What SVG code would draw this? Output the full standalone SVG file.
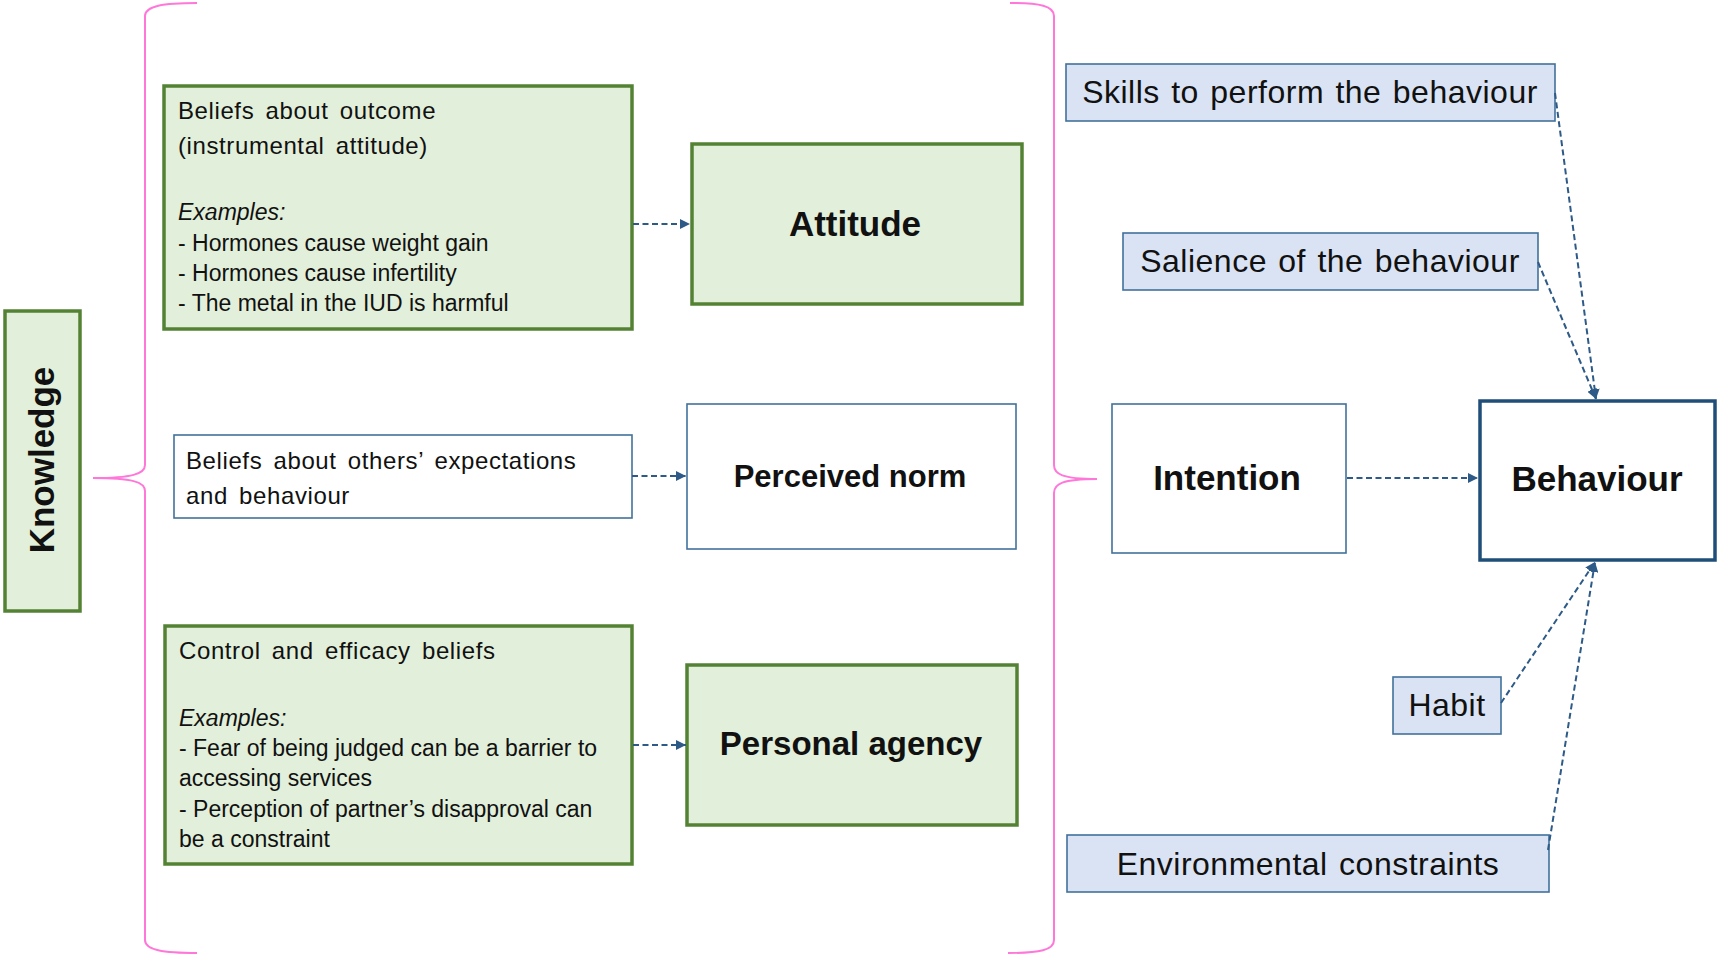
<svg xmlns="http://www.w3.org/2000/svg" width="1717" height="955" viewBox="0 0 1717 955">
<style>
text{font-family:"Liberation Sans",Arial,sans-serif;fill:#111}
.green{fill:#E2EFDA;stroke:#548235;stroke-width:3.5}
.white{fill:#fff;stroke:#41719C;stroke-width:1.6}
.blue{fill:#DAE3F3;stroke:#41719C;stroke-width:1.6}
.beh{fill:#fff;stroke:#1F4E79;stroke-width:3.5}
.hdr{font-size:24px;letter-spacing:0.6px;word-spacing:4px}
.ex{font-size:23px}
.it{font-size:23px;font-style:italic}
.bold{font-weight:bold;text-anchor:middle}
.side{font-size:32px;letter-spacing:0.5px;word-spacing:2px;text-anchor:middle}
.conn{fill:none;stroke:#2E5A88;stroke-width:2;stroke-dasharray:6 3.5;marker-end:url(#ah)}
.brace{fill:none;stroke:#FF77D9;stroke-width:2}
</style>
<defs>
<marker id="ah" markerUnits="userSpaceOnUse" markerWidth="11" markerHeight="10" refX="10" refY="5" orient="auto">
<path d="M0,0 L10,5 L0,10 z" fill="#2E5A88"/>
</marker>
</defs>
<rect width="1717" height="955" fill="#fff"/>

<g id="braces">
<path class="brace" d="M197,3 C163,3 145,6 145,16 L145,465 C145,474 132,478 93,478 C132,478 145,482 145,491 L145,940 C145,950 163,953 197,953"/>
<path class="brace" d="M1010,3 C1040,3 1054,6 1054,16 L1054,465 C1054,474 1062,479 1097,479 C1062,479 1054,484 1054,493 L1054,940 C1054,950 1040,953 1008,953"/>
</g>

<g id="knowledge">
<rect class="green" x="5" y="311" width="75" height="300"/>
<text class="bold" font-size="35" transform="translate(54,460) rotate(-90)">Knowledge</text>
</g>

<g id="outcome-beliefs">
<rect class="green" x="164" y="86" width="468" height="243"/>
<text class="hdr" x="178" y="119">Beliefs about outcome</text>
<text class="hdr" x="178" y="154">(instrumental attitude)</text>
<text class="it" x="178" y="220">Examples:</text>
<text class="ex" x="178" y="251">- Hormones cause weight gain</text>
<text class="ex" x="178" y="281">- Hormones cause infertility</text>
<text class="ex" x="178" y="311">- The metal in the IUD is harmful</text>
</g>

<g id="attitude">
<rect class="green" x="692" y="144" width="330" height="160"/>
<text class="bold" font-size="35" x="855" y="236">Attitude</text>
</g>

<g id="others-beliefs">
<rect class="white" x="174" y="435" width="458" height="83"/>
<text class="hdr" x="186" y="469">Beliefs about others’ expectations</text>
<text class="hdr" x="186" y="504">and behaviour</text>
</g>

<g id="perceived-norm">
<rect class="white" x="687" y="404" width="329" height="145"/>
<text class="bold" font-size="31" x="850" y="487">Perceived norm</text>
</g>

<g id="control-beliefs">
<rect class="green" x="165" y="626" width="467" height="238"/>
<text class="hdr" x="179" y="659">Control and efficacy beliefs</text>
<text class="it" x="179" y="726">Examples:</text>
<text class="ex" x="179" y="756">- Fear of being judged can be a barrier to</text>
<text class="ex" x="179" y="786">accessing services</text>
<text class="ex" x="179" y="817">- Perception of partner’s disapproval can</text>
<text class="ex" x="179" y="847">be a constraint</text>
</g>

<g id="personal-agency">
<rect class="green" x="687" y="665" width="330" height="160"/>
<text class="bold" font-size="33" x="851" y="755">Personal agency</text>
</g>

<g id="intention">
<rect class="white" x="1112" y="404" width="234" height="149"/>
<text class="bold" font-size="35" x="1227" y="490">Intention</text>
</g>

<g id="behaviour">
<rect class="beh" x="1480" y="401" width="235" height="159"/>
<text class="bold" font-size="35" x="1597" y="491">Behaviour</text>
</g>

<g id="skills">
<rect class="blue" x="1066" y="64" width="489" height="57"/>
<text class="side" x="1310" y="103">Skills to perform the behaviour</text>
</g>

<g id="salience">
<rect class="blue" x="1123" y="233" width="415" height="57"/>
<text class="side" x="1330" y="272">Salience of the behaviour</text>
</g>

<g id="habit">
<rect class="blue" x="1393" y="677" width="108" height="57"/>
<text class="side" x="1447" y="716">Habit</text>
</g>

<g id="environmental">
<rect class="blue" x="1067" y="835" width="482" height="57"/>
<text class="side" x="1308" y="875">Environmental constraints</text>
</g>

<g id="connectors">
<path class="conn" d="M633,224 L690,224"/>
<path class="conn" d="M632,476 L686,476"/>
<path class="conn" d="M633,745 L686,745"/>
<path class="conn" d="M1347,478 L1478,478"/>
<path class="conn" d="M1555,93 L1596,399"/>
<path class="conn" d="M1538,262 L1596,399"/>
<path class="conn" d="M1501,703 L1595,562"/>
<path class="conn" d="M1548,850 L1595,562"/>
</g>
</svg>
